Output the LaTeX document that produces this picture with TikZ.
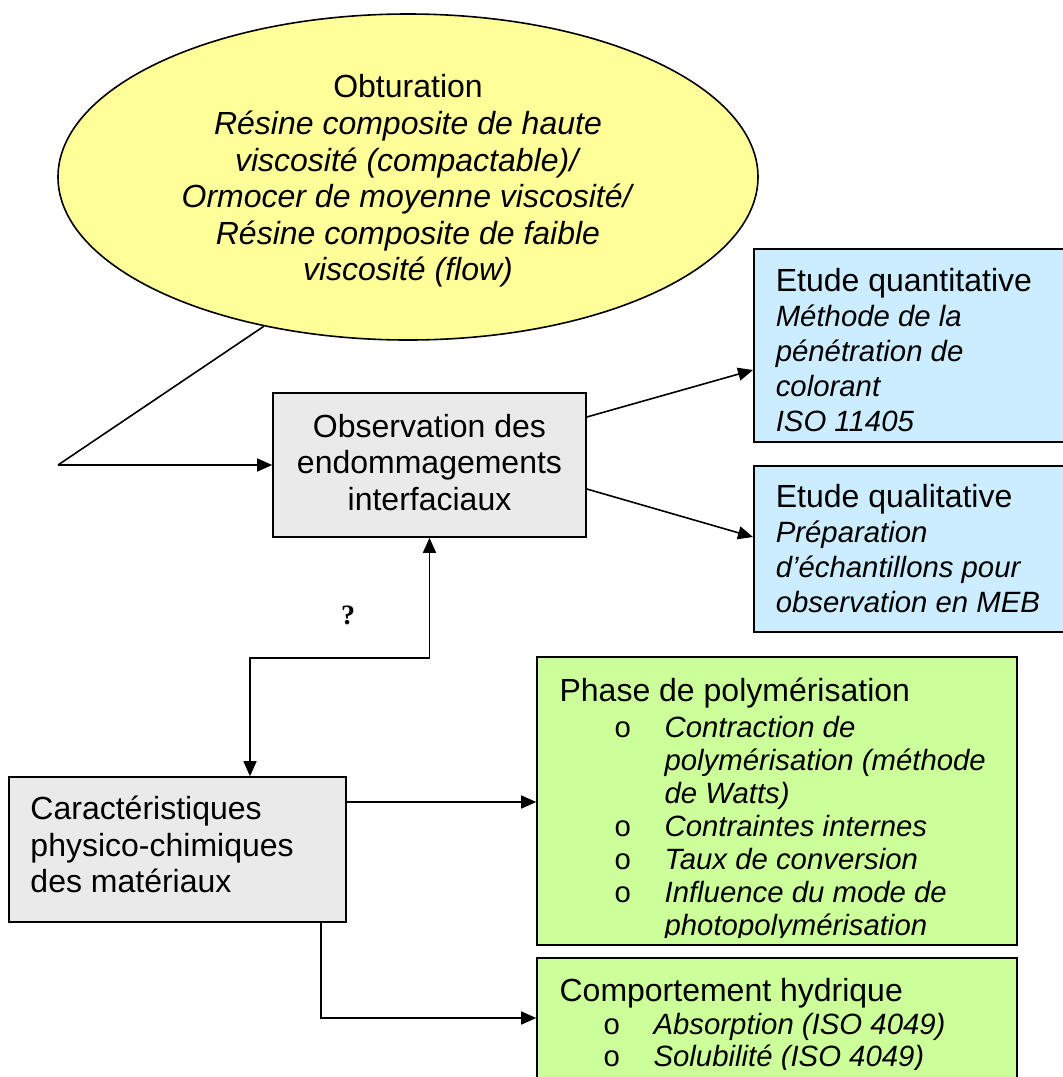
\documentclass[tikz,border=0pt]{standalone}
\usepackage{fontspec}
\setmainfont{Liberation Sans}
\newfontfamily\qfont{Liberation Serif}
\usetikzlibrary{shapes.geometric,arrows.meta}
\definecolor{obtufill}{HTML}{FFFF99}
\definecolor{greyfill}{HTML}{EAEAEA}
\definecolor{bluefill}{HTML}{CCECFF}
\definecolor{greenfill}{HTML}{CCFF99}
% smaller italic detail lines of the blue and green boxes
\newcommand{\detail}[1]{{\fontsize{14.67}{17.5}\selectfont\itshape #1}}
% bullet line of the green boxes: indent, then "o", then italic text
\newcommand{\puce}[2][27.5pt]{\hspace*{#1}\makebox[25pt][l]{\detail{\upshape o}}\detail{#2}}
\newcommand{\suite}[2][27.5pt]{\hspace*{#1}\hspace*{25pt}\detail{#2}}
\begin{document}
\begin{tikzpicture}[x=0.5pt, y=-0.5pt,
    box/.style={draw, rectangle, line width=0.8pt},
    arr/.style={-{Triangle[length=7.5pt,width=6.5pt]}, line width=0.8pt},
    arrboth/.style={{Triangle[length=7.5pt,width=6.5pt]}-{Triangle[length=7.5pt,width=6.5pt]}, line width=0.8pt},
    txt/.style={font=\fontsize{16}{18.3}\selectfont}]
\useasboundingbox (0,0) rectangle (1063,1077);

\node[draw, ellipse, fill=obtufill, line width=0.8pt, minimum width=350pt, minimum height=163pt, inner sep=0pt, align=center, txt] (obt) at (408,177)
    {\rule{0pt}{15.7pt}Obturation\\ \textit{Résine composite de haute}\\ \textit{viscosité (compactable)/}\\ \textit{Ormocer de moyenne viscosité/}\\ \textit{Résine composite de faible}\\ \textit{viscosité (flow)}};
\coordinate (tip) at (58,465);
\draw[line width=0.8pt] (obt.226) -- (tip);

\node[box, txt, fill=greyfill, minimum width=156.5pt, minimum height=72pt, align=center] (obs) at (429.5,465) {Observation des\\endommagements\\interfaciaux\rule[-3pt]{0pt}{3pt}};
\draw[arr] (tip) -- (obs.west);

\node[box, fill=bluefill, anchor=west, minimum height=96.5pt, text width=150pt, inner xsep=11pt, align=flush left, font=\fontsize{16}{17.5}\selectfont] (quant) at (753,345.5)
    {\rule{0pt}{16pt}Etude quantitative\\ \detail{Méthode de la}\\ \detail{pénétration de}\\ \detail{colorant}\\ \detail{ISO 11405}};
\node[box, fill=bluefill, anchor=west, minimum height=83pt, text width=150pt, inner xsep=11pt, align=flush left, font=\fontsize{16}{17.5}\selectfont] (qual) at (753,549)
    {Etude qualitative\\ \detail{Préparation}\\ \detail{d’échantillons pour}\\ \detail{observation en MEB}};
\draw[arr] ([yshift=24pt]obs.east) -- ([yshift=-12.25pt]quant.west);
\draw[arr] ([yshift=-12pt]obs.east) -- ([yshift=6pt]qual.west);

\node[box, txt, fill=greyfill, text width=147pt, minimum height=72.5pt, inner xsep=10.75pt, align=flush left] (carac) at (177.5,849.5) {Caractéristiques\\physico-chimiques\\des matériaux\rule[-5pt]{0pt}{5pt}};
\draw[arrboth] ([xshift=36.25pt]carac.north) |- ([yshift=-60pt]obs.south) -- (obs.south);
\node[font=\qfont\bfseries\fontsize{14}{16}\selectfont] (qmark) at (348,615) {?};

% green boxes, the text is cut a little above the lower border
\node[box, fill=greenfill, minimum width=240pt, minimum height=144pt] (phase) at (777,801) {};
\begin{scope}
  \clip ([yshift=4pt]phase.south west) rectangle (phase.north east);
  \node[anchor=north west, inner sep=0pt, align=left, font=\fontsize{16}{16.5}\selectfont] (phasetxt) at ([shift={(11.5pt,-10.5pt)}]phase.north west)
    {Phase de polymérisation\\[1.5pt] \puce{Contraction de}\\ \suite{polymérisation (méthode}\\ \suite{de Watts)}\\ \puce{Contraintes internes}\\ \puce{Taux de conversion}\\ \puce{Influence du mode de}\\ \suite{photopolymérisation}};
\end{scope}
\node[box, fill=greenfill, minimum width=240pt, minimum height=60pt] (hydro) at (777,1018) {};
\begin{scope}
  \clip ([yshift=4.5pt]hydro.south west) rectangle (hydro.north east);
  \node[anchor=north west, inner sep=0pt, align=left, font=\fontsize{16}{16.2}\selectfont] (hydrotxt) at ([shift={(11.5pt,-10.5pt)}]hydro.north west)
    {Comportement hydrique\\ \puce[22pt]{Absorption (ISO 4049)}\\ \puce[22pt]{Solubilité (ISO 4049)}};
\end{scope}
\draw[arr] ([yshift=23.75pt]carac.east) -- ([yshift=23.75pt]carac.east -| phase.west);
\draw[arr] ([xshift=71.75pt]carac.south) |- (hydro.west);
\end{tikzpicture}
\end{document}
